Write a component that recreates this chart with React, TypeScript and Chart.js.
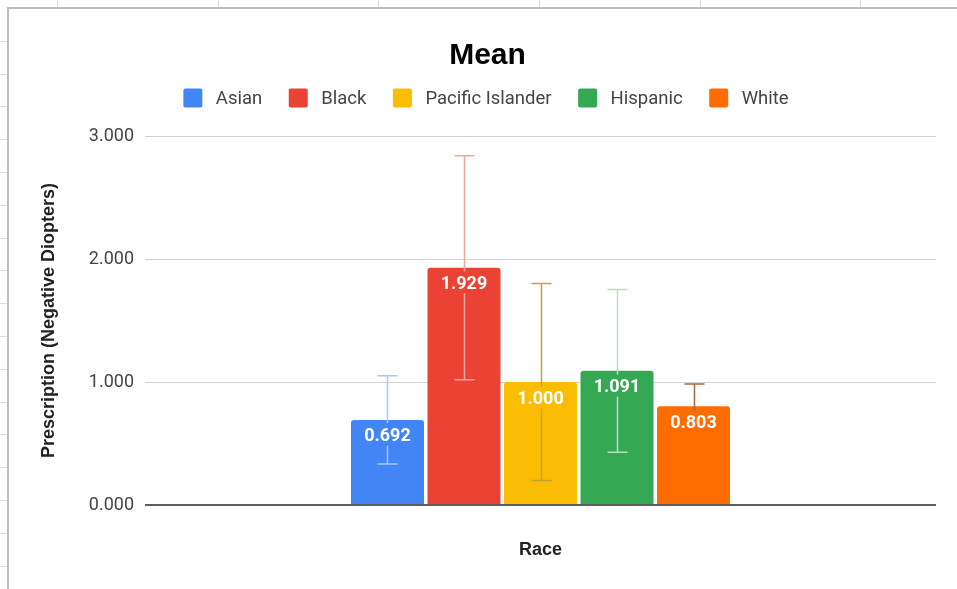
import React, { useEffect, useRef } from 'react';
import { Chart, registerables } from 'chart.js';

Chart.register(...registerables);

// ---- Data ----
const categories = [''];
const seriesNames = ['Asian', 'Black', 'Pacific Islander', 'Hispanic', 'White'];
const means = [0.692, 1.929, 1.0, 1.091, 0.803];
const errors = [0.358, 0.91, 0.8, 0.662, 0.18];
const barColors = ['#4285f4', '#ea4335', '#fbbc04', '#34a853', '#ff6d01'];
const errorColors = ['#a8c7fa', '#f5a59e', '#c4a23a', '#b3dfbe', '#a8693c'];
const yTickValues = [0, 1, 2, 3];
const chartTitle = 'Mean';
const xAxisTitle = 'Race';
const yAxisTitle = 'Prescription (Negative Diopters)';

const W = 957;
const H = 589;

const backgroundPlugin = {
  id: 'sheetBackground',
  beforeDraw(chart: any) {
    const ctx = chart.ctx as CanvasRenderingContext2D;
    ctx.save();
    ctx.fillStyle = '#ffffff';
    ctx.fillRect(0, 0, chart.width, chart.height);
    // spreadsheet cell separators peeking outside the chart frame
    ctx.strokeStyle = '#dadce0';
    ctx.lineWidth = 1;
    [57, 218, 378, 539, 700, 860].forEach((x) => {
      ctx.beginPath();
      ctx.moveTo(x + 0.5, 0);
      ctx.lineTo(x + 0.5, 7);
      ctx.stroke();
    });
    for (let y = 8 + 32.8; y < chart.height; y += 32.8) {
      const yy = Math.round(y) + 0.5;
      ctx.beginPath();
      ctx.moveTo(0, yy);
      ctx.lineTo(7, yy);
      ctx.stroke();
    }
    // chart frame
    ctx.fillStyle = '#bdbdbd';
    ctx.fillRect(7, 7, chart.width - 7, 2);
    ctx.fillRect(7, 7, 2, chart.height - 7);
    ctx.restore();
  },
};

const errorAndLabelPlugin = {
  id: 'errorBarsAndLabels',
  afterDatasetsDraw(chart: any) {
    const ctx = chart.ctx as CanvasRenderingContext2D;
    const yScale = chart.scales.y;
    ctx.save();
    chart.data.datasets.forEach((ds: any, i: number) => {
      const meta = chart.getDatasetMeta(i);
      meta.data.forEach((bar: any, j: number) => {
        const v = ds.data[j];
        const e = ds.errors[j];
        const yt = yScale.getPixelForValue(v + e);
        const yb = yScale.getPixelForValue(v - e);
        const x = Math.round(bar.x) + 0.5;
        ctx.strokeStyle = ds.errorColor;
        ctx.lineWidth = 1.5;
        ctx.beginPath();
        ctx.moveTo(x, yt);
        ctx.lineTo(x, yb);
        ctx.moveTo(x - 10, yt);
        ctx.lineTo(x + 10, yt);
        ctx.moveTo(x - 10, yb);
        ctx.lineTo(x + 10, yb);
        ctx.stroke();
      });
    });
    // data labels (with halo in bar color)
    ctx.font = 'bold 18px Roboto';
    ctx.textAlign = 'center';
    ctx.textBaseline = 'middle';
    ctx.lineJoin = 'round';
    chart.data.datasets.forEach((ds: any, i: number) => {
      const meta = chart.getDatasetMeta(i);
      meta.data.forEach((bar: any, j: number) => {
        const v = ds.data[j];
        const txt = v.toFixed(3);
        const ty = bar.y + 17;
        ctx.strokeStyle = ds.backgroundColor;
        ctx.lineWidth = 10;
        ctx.strokeText(txt, bar.x, ty);
        ctx.fillStyle = '#ffffff';
        ctx.fillText(txt, bar.x, ty);
      });
    });
    ctx.restore();
  },
};

const titleLegendPlugin = {
  id: 'titleLegend',
  afterDraw(chart: any) {
    const ctx = chart.ctx as CanvasRenderingContext2D;
    ctx.save();
    // title
    ctx.font = 'bold 30px "Liberation Sans", Arial, sans-serif';
    ctx.fillStyle = '#000000';
    ctx.textAlign = 'center';
    ctx.textBaseline = 'alphabetic';
    ctx.fillText(chartTitle, 487.5, 63.5);
    // legend
    ctx.font = '18.5px Roboto';
    ctx.textAlign = 'left';
    const box = 19;
    const gapText = 13.5;
    const gapItem = 26.5;
    const items = chart.data.datasets.map((ds: any) => ({
      label: ds.label as string,
      color: ds.backgroundColor as string,
      w: ctx.measureText(ds.label).width,
    }));
    const total =
      items.reduce((s: number, it: any) => s + box + gapText + it.w, 0) + gapItem * (items.length - 1);
    let x = 486 - total / 2;
    items.forEach((it: any) => {
      ctx.fillStyle = it.color;
      ctx.beginPath();
      (ctx as any).roundRect(x, 88.5, box, box, 2);
      ctx.fill();
      ctx.fillStyle = '#444444';
      ctx.fillText(it.label, x + box + gapText, 104);
      x += box + gapText + it.w + gapItem;
    });
    ctx.restore();
  },
};

export default function App() {
  const ref = useRef<HTMLCanvasElement>(null);

  useEffect(() => {
    if (!ref.current) return;
    const datasets = seriesNames.map((name, i) => ({
      label: name,
      data: [means[i]],
      errors: [errors[i]],
      errorColor: errorColors[i],
      backgroundColor: barColors[i],
      borderWidth: 0,
      borderRadius: { topLeft: 3, topRight: 3, bottomLeft: 0, bottomRight: 0 },
      borderSkipped: false,
      categoryPercentage: 0.4836,
      barPercentage: 0.954,
    }));

    const chart = new Chart(ref.current, {
      type: 'bar',
      data: { labels: categories, datasets: datasets as any },
      options: {
        animation: false,
        responsive: false,
        devicePixelRatio: 1,
        layout: { padding: { left: 8, right: 21, top: 136, bottom: 0 } },
        plugins: {
          legend: { display: false },
          title: { display: false },
          tooltip: { enabled: false },
        },
        scales: {
          x: {
            grid: { display: false },
            border: { display: false },
            ticks: { display: false },
            title: {
              display: true,
              text: xAxisTitle,
              color: '#222222',
              font: { family: '"Liberation Sans", Arial, sans-serif', size: 18, weight: 'bold' },
              padding: { top: 0, bottom: 28 },
            },
            afterFit: (s: any) => {
              s.height = 84;
            },
          },
          y: {
            min: 0,
            max: 3,
            afterBuildTicks: (s: any) => {
              s.ticks = yTickValues.map((v) => ({ value: v }));
            },
            ticks: {
              color: '#444444',
              font: { family: 'Roboto', size: 18 },
              padding: 11,
              callback: (v: any) => Number(v).toFixed(3),
            },
            grid: {
              drawTicks: false,
              color: (c: any) => (c.tick && c.tick.value === 0 ? '#5f5f5f' : '#d3d3d3'),
              lineWidth: (c: any) => (c.tick && c.tick.value === 0 ? 2 : 1),
            },
            border: { display: false },
            title: {
              display: true,
              text: yAxisTitle,
              color: '#222222',
              font: { family: '"Liberation Sans", Arial, sans-serif', size: 18, weight: 'bold' },
              padding: { top: 30, bottom: 0 },
            },
            afterFit: (s: any) => {
              s.width = 137;
            },
          },
        },
      },
      plugins: [backgroundPlugin, errorAndLabelPlugin, titleLegendPlugin],
    });
    return () => chart.destroy();
  }, []);

  return (
    <div style={{ position: 'fixed', left: 0, top: 0, width: W, height: H, background: '#fff', overflow: 'hidden' }}>
      <canvas ref={ref} width={W} height={H} style={{ display: 'block', width: W, height: H }} />
    </div>
  );
}
